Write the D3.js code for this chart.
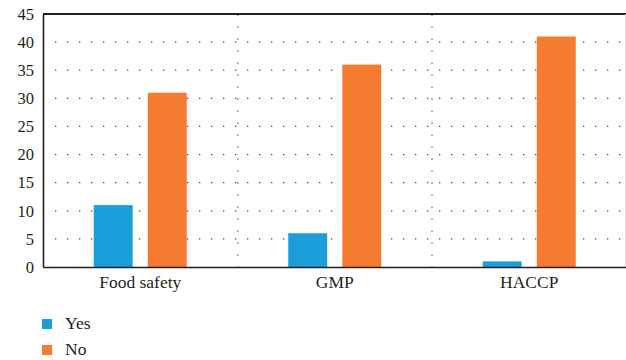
<!DOCTYPE html>
<html>
<head>
<meta charset="utf-8">
<script src="https://cdn.jsdelivr.net/npm/d3@7"></script>
<style>
  body { margin: 0; background: #fff; }
</style>
</head>
<body>
<svg id="chart" width="626" height="360"></svg>
<script>
// dados
const categorias = ["Food safety", "GMP", "HACCP"];
const series = ["Yes", "No"];
const valoresYes = [11, 6, 1];
const valoresNo = [31, 36, 41];
const ticksY = [0, 5, 10, 15, 20, 25, 30, 35, 40, 45];
const cores = { Yes: "#1b9dd9", No: "#f47b30" };

const fonte = "'Liberation Serif', 'DejaVu Serif', 'Times New Roman', serif";
const margem = { top: 14, right: 0, bottom: 93, left: 43 };
const largura = 626, altura = 360;

const svg = d3.select("#chart");

const x = d3.scaleBand()
  .domain(categorias)
  .range([margem.left, 626.5]);

const xSub = d3.scaleBand()
  .domain(series)
  .range([0, 93])
  .paddingInner(0.28);

const y = d3.scaleLinear()
  .domain([0, 45])
  .range([altura - margem.bottom, margem.top]);

// grade pontilhada horizontal
svg.append("g")
  .selectAll("line")
  .data(ticksY.filter(t => t > 0 && t < 45))
  .enter().append("line")
  .attr("x1", 55)
  .attr("x2", 626)
  .attr("y1", d => y(d))
  .attr("y2", d => y(d))
  .attr("stroke", "#444")
  .attr("stroke-width", 1.2)
  .attr("stroke-dasharray", "1.3,10.7");

// grade pontilhada vertical (entre categorias)
svg.append("g")
  .selectAll("line")
  .data(categorias.slice(1))
  .enter().append("line")
  .attr("x1", d => Math.round(x(d)))
  .attr("x2", d => Math.round(x(d)))
  .attr("y1", y(45) + 0.5)
  .attr("y2", y(0))
  .attr("stroke", "#444")
  .attr("stroke-width", 1.2)
  .attr("stroke-dasharray", "1.3,10.7");

// barras
const dados = categorias.map((c, i) => ({ cat: c, Yes: valoresYes[i], No: valoresNo[i] }));

const grupos = svg.append("g")
  .selectAll("g")
  .data(dados)
  .enter().append("g")
  .attr("transform", d => `translate(${x(d.cat) + x.bandwidth() / 2 - 46.5},0)`);

grupos.selectAll("rect")
  .data(d => series.map(s => ({ s, v: d[s] })))
  .enter().append("rect")
  .attr("x", d => xSub(d.s))
  .attr("width", xSub.bandwidth())
  .attr("y", d => y(d.v))
  .attr("height", d => y(0) - y(d.v))
  .attr("fill", d => cores[d.s]);

// bordas
svg.append("line")
  .attr("x1", margem.left).attr("x2", 626)
  .attr("y1", y(45)).attr("y2", y(45))
  .attr("stroke", "#231f20").attr("stroke-width", 2);

svg.append("line")
  .attr("x1", 625.5).attr("x2", 625.5)
  .attr("y1", y(45)).attr("y2", y(0))
  .attr("stroke", "#ddd").attr("stroke-width", 1);

// eixo Y
const eixoY = svg.append("g")
  .attr("transform", `translate(${margem.left},0)`)
  .call(d3.axisLeft(y).tickValues(ticksY).tickSize(0).tickPadding(9))
  .attr("font-family", fonte)
  .attr("font-size", 16.5);
eixoY.select(".domain").attr("stroke", "#231f20").attr("stroke-width", 1.6);
eixoY.selectAll("text").attr("fill", "#231f20");

// eixo X
const eixoX = svg.append("g")
  .attr("transform", `translate(0,${y(0)})`)
  .call(d3.axisBottom(x).tickSize(0).tickPadding(9))
  .attr("font-family", fonte)
  .attr("font-size", 17.5);
eixoX.select(".domain").attr("stroke", "#231f20").attr("stroke-width", 1.6);
eixoX.selectAll("text").attr("fill", "#231f20");

// legenda
const legenda = svg.append("g")
  .attr("font-family", fonte)
  .attr("font-size", 17.5)
  .selectAll("g")
  .data(series)
  .enter().append("g")
  .attr("transform", (d, i) => `translate(42,${319 + i * 26})`);

legenda.append("rect")
  .attr("width", 10)
  .attr("height", 10)
  .attr("fill", d => cores[d]);

legenda.append("text")
  .attr("x", 23)
  .attr("y", 10)
  .attr("fill", "#231f20")
  .text(d => d);
</script>
</body>
</html>
